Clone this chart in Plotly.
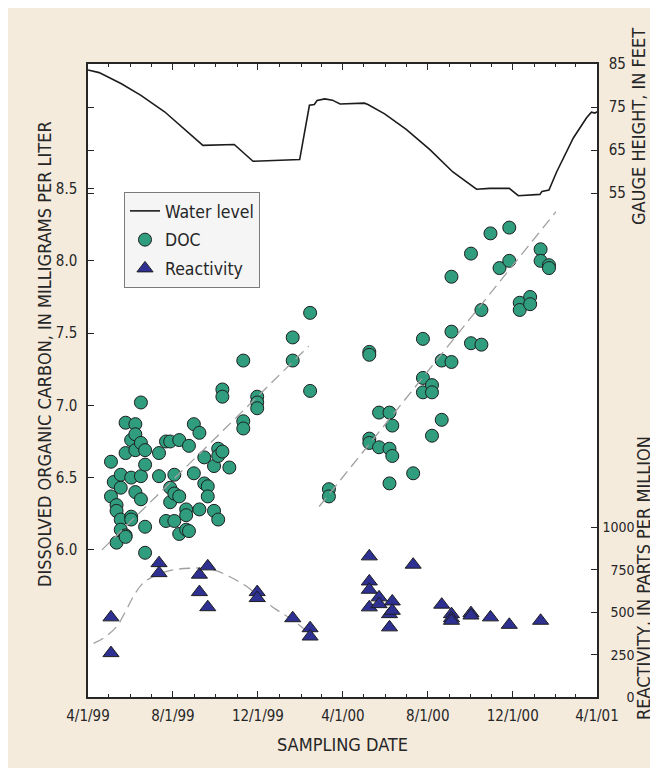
import plotly.graph_objects as go

# ---------------- data ----------------
wl_dates = ["1999-04-01", "1999-04-17", "1999-05-19", "1999-06-16", "1999-07-20",
            "1999-08-18", "1999-09-13", "1999-10-28", "1999-11-24", "2000-01-30",
            "2000-02-13", "2000-02-20", "2000-02-24", "2000-03-06", "2000-03-17",
            "2000-03-28", "2000-05-02", "2000-05-07", "2000-05-24", "2000-05-31",
            "2000-07-01", "2000-08-04", "2000-09-06", "2000-09-25", "2000-10-10",
            "2000-10-29", "2000-11-26", "2000-12-09", "2001-01-09", "2001-01-12",
            "2001-01-22", "2001-02-02", "2001-02-26", "2001-03-17", "2001-03-24",
            "2001-03-29", "2001-04-01"]
wl_height = [83.6, 83.0, 80.4, 77.7, 73.9,
             69.8, 66.1, 66.3, 62.4, 62.8,
             75.4, 75.6, 76.5, 76.9, 76.6,
             75.7, 75.9, 75.6, 74.0, 73.4,
             69.8, 65.1, 59.9, 57.7, 55.9,
             56.1, 56.1, 54.4, 54.7, 55.4,
             55.7, 59.9, 67.8, 72.5, 73.8,
             73.6, 73.9]

doc_dates = (["1999-05-04"] * 2 + ["1999-05-08"] * 1 + ["1999-05-12"] * 3 +
             ["1999-05-18"] * 4 + ["1999-05-25"] * 4 + ["1999-06-02"] * 4 +
             ["1999-06-08"] * 4 + ["1999-06-16"] * 4 + ["1999-06-22"] * 4 +
             ["1999-07-12"] * 2 + ["1999-07-22"] * 2 + ["1999-07-28"] * 3 +
             ["1999-08-03"] * 3 + ["1999-08-10"] * 3 + ["1999-08-20"] * 3 +
             ["1999-08-24"] * 2 + ["1999-08-31"] * 2 + ["1999-09-08"] * 2 +
             ["1999-09-15"] * 2 + ["1999-09-20"] * 2 + ["1999-09-29"] * 2 +
             ["1999-10-05"] * 3 + ["1999-10-11"] * 3 + ["1999-10-21"] * 1 +
             ["1999-11-10"] * 3 + ["1999-11-30"] * 3 + ["2000-01-20"] * 2 +
             ["2000-02-14"] * 2 + ["2000-03-12"] * 2 + ["2000-05-09"] * 4 +
             ["2000-05-23"] * 2 + ["2000-06-07"] * 3 + ["2000-06-11"] * 2 +
             ["2000-07-11"] * 1 + ["2000-07-25"] * 3 + ["2000-08-07"] * 3 +
             ["2000-08-21"] * 2 + ["2000-09-04"] * 3 + ["2000-10-02"] * 2 +
             ["2000-10-17"] * 2 + ["2000-10-30"] * 1 + ["2000-11-12"] * 1 +
             ["2000-11-26"] * 2 + ["2000-12-11"] * 2 + ["2000-12-26"] * 2 +
             ["2001-01-10"] * 2 + ["2001-01-22"] * 2)
doc_values = [6.61, 6.37, 6.47, 6.31, 6.27, 6.05,
              6.52, 6.43, 6.21, 6.14, 6.88, 6.67, 6.10, 6.09, 6.76, 6.50, 6.23, 6.21,
              6.87, 6.80, 6.69, 6.40, 7.02, 6.74, 6.51, 6.35, 6.69, 6.59, 6.16, 5.98,
              6.67, 6.51, 6.75, 6.20, 6.75, 6.43, 6.33,
              6.52, 6.39, 6.20, 6.76, 6.37, 6.11, 6.28, 6.24, 6.14,
              6.72, 6.13, 6.87, 6.53, 6.81, 6.28,
              6.64, 6.46, 6.44, 6.37, 6.58, 6.27,
              6.70, 6.65, 6.21, 7.11, 7.06, 6.68, 6.57,
              7.31, 6.89, 6.84, 7.06, 7.02, 6.98, 7.47, 7.31,
              7.64, 7.10, 6.42, 6.37, 7.37, 7.35, 6.77, 6.74,
              6.95, 6.71, 6.95, 6.70, 6.46, 6.86, 6.65,
              6.53, 7.46, 7.19, 7.09, 7.14, 7.09, 6.79,
              7.31, 6.90, 7.89, 7.51, 7.30, 8.05, 7.43,
              7.66, 7.42, 8.19, 7.95,
              8.23, 8.00, 7.71, 7.66, 7.75, 7.70,
              8.08, 8.00, 7.97, 7.95]

react_dates = (["1999-05-04"] * 2 + ["1999-07-12"] * 2 + ["1999-09-08"] * 2 +
               ["1999-09-20"] * 2 + ["1999-11-30"] * 2 + ["2000-01-20"] * 1 +
               ["2000-02-14"] * 2 + ["2000-05-09"] * 4 + ["2000-05-23"] * 2 +
               ["2000-06-07"] * 2 + ["2000-06-11"] * 2 + ["2000-07-11"] * 1 +
               ["2000-08-21"] * 1 + ["2000-09-04"] * 3 + ["2000-10-02"] * 2 +
               ["2000-10-30"] * 1 + ["2000-11-26"] * 1 + ["2001-01-10"] * 1)
react_values = [470, 259, 790, 731, 722, 619,
                771, 530, 619, 584, 465,
                406, 357, 830, 682, 633, 529, 588, 548,
                489, 411, 564, 509, 781,
                545, 489, 465, 450, 495, 481,
                470, 426, 450]

# fitted trend lines (dashed)
doc_trend1_dates = ["1999-04-21", "2000-02-12"]
doc_trend1_values = [6.00, 7.41]
doc_trend2_dates = ["2000-02-27", "2001-02-01"]
doc_trend2_values = [6.30, 8.34]
react_curve_dates = ["1999-04-09", "1999-04-23", "1999-05-12", "1999-05-26", "1999-06-05",
                     "1999-06-19", "1999-07-09", "1999-08-01", "1999-08-25", "1999-09-13",
                     "1999-10-02", "1999-10-21", "1999-11-15", "1999-12-08", "1999-12-28",
                     "2000-01-16", "2000-02-07"]
react_curve_values = [317, 347, 415, 514, 592,
                      672, 721, 750, 760, 760,
                      746, 711, 652, 573, 514,
                      465, 396]

x_tick_vals = ["1999-04-01", "1999-08-01", "1999-12-01", "2000-04-01",
               "2000-08-01", "2000-12-01", "2001-04-01"]
x_tick_text = ["4/1/99", "8/1/99", "12/1/99", "4/1/00", "8/1/00", "12/1/00", "4/1/01"]
doc_ticks = [6.0, 6.5, 7.0, 7.5, 8.0, 8.5]
gauge_ticks = [55, 65, 75, 85]
react_ticks = [0, 250, 500, 750, 1000]

# ---------------- styling ----------------
FONT = "DejaVu Sans Condensed, DejaVu Sans, sans-serif"
INK = "#262626"
BEIGE = "#F5EBDD"
TEAL = "#2f9d7e"
NAVY = "#2e3192"
DASH = "#a0a0a0"

W, H = 650, 760          # page has an 8 px body margin
OFF = 8
L, R, T, B = 80, 61, 56, 71
PW, PH = W - L - R, H - T - B


def px_x(px):   # page pixel -> paper fraction
    return (px - OFF - L) / PW


def px_y(py):
    return (H - B - (py - OFF)) / PH


fig = go.Figure()

fig.add_trace(go.Scatter(x=wl_dates, y=wl_height, mode="lines", name="Water level",
                         yaxis="y2", legendgroup="a",
                         line=dict(color="#1c1c1c", width=1.6)))

fig.add_trace(go.Scatter(x=doc_dates, y=doc_values, mode="markers", name="DOC",
                         legendgroup="b",
                         marker=dict(symbol="circle", size=13, color=TEAL,
                                     line=dict(color="#1e1e1e", width=1))))
fig.add_trace(go.Scatter(x=doc_trend1_dates, y=doc_trend1_values, mode="lines",
                         showlegend=False, hoverinfo="skip",
                         line=dict(color=DASH, width=1.3, dash="11px,6px")))
fig.add_trace(go.Scatter(x=doc_trend2_dates, y=doc_trend2_values, mode="lines",
                         showlegend=False, hoverinfo="skip",
                         line=dict(color=DASH, width=1.3, dash="11px,6px")))

fig.add_trace(go.Scatter(x=react_curve_dates, y=react_curve_values, mode="lines",
                         yaxis="y3", showlegend=False, hoverinfo="skip",
                         line=dict(color=DASH, width=1.3, dash="11px,6px", shape="spline")))
fig.add_trace(go.Scatter(x=react_dates, y=react_values, mode="markers", name="Reactivity",
                         yaxis="y3", legendgroup="c",
                         marker=dict(symbol="triangle-up", size=14, color=NAVY,
                                     line=dict(color="#1e1e1e", width=1))))

TICKFONT = dict(family=FONT, size=15, color=INK)
axis_common = dict(showline=True, linecolor=INK, linewidth=1.5, ticks="inside",
                   tickcolor=INK, tickwidth=1, showgrid=False, zeroline=False)

fig.update_layout(
    width=W, height=H,
    margin=dict(l=L, r=R, t=T, b=B),
    paper_bgcolor=BEIGE, plot_bgcolor="white",
    font=dict(family=FONT, color=INK),
    xaxis=dict(type="date", range=["1999-04-01", "2001-04-01"],
               tickmode="array", tickvals=x_tick_vals, ticktext=x_tick_text,
               ticklen=6, mirror="ticks", ticklabelstandoff=4, tickfont=TICKFONT,
               minor=dict(dtick="M1", tick0="1999-04-01", ticks="inside", ticklen=3.5,
                          tickcolor=INK, showgrid=False),
               **axis_common),
    yaxis=dict(range=[4.982, 9.362], tickmode="array", tickvals=doc_ticks,
               ticktext=[f"{v:.1f}" for v in doc_ticks], ticklen=6,
               ticklabelstandoff=6, tickfont=TICKFONT, **axis_common),
    yaxis2=dict(overlaying="y", side="right", anchor="x", range=[-62.1, 85],
                tickmode="array", tickvals=gauge_ticks, ticklen=6, mirror="ticks",
                ticklabelstandoff=7, tickfont=TICKFONT, **axis_common),
    yaxis3=dict(overlaying="y", side="right", anchor="x", range=[0, 3736],
                tickmode="array", tickvals=react_ticks,
                ticktext=["\u2007" * (4 - len(str(v))) + str(v) for v in react_ticks],
                ticklen=6, ticklabelstandoff=1,
                tickfont=dict(family=FONT, size=14, color=INK), **axis_common),
    legend=dict(x=px_x(124), y=px_y(192), xanchor="left", yanchor="top",
                bgcolor="#f5f5f5", bordercolor="#7a7a7a", borderwidth=1,
                font=dict(family=FONT, size=17.5, color=INK), itemwidth=30,
                tracegroupgap=3, entrywidth=140, entrywidthmode="pixels"),
    showlegend=True,
)

title_font = dict(family=FONT, size=18, color=INK)
fig.add_annotation(text="DISSOLVED ORGANIC CARBON, IN MILLIGRAMS PER LITER",
                   xref="paper", yref="paper", x=px_x(44), y=px_y(354), textangle=-90,
                   showarrow=False, xanchor="center", yanchor="middle", font=title_font)
fig.add_annotation(text="SAMPLING DATE", xref="paper", yref="paper", x=0.5, y=px_y(745),
                   showarrow=False, xanchor="center", yanchor="middle", font=title_font)
fig.add_annotation(text="GAUGE HEIGHT, IN FEET", xref="paper", yref="paper",
                   x=px_x(638), y=px_y(127), textangle=-90, showarrow=False,
                   xanchor="center", yanchor="middle", font=title_font)
fig.add_annotation(text="REACTIVITY, IN PARTS PER MILLION", xref="paper", yref="paper",
                   x=px_x(643), y=px_y(578), textangle=-90, showarrow=False,
                   xanchor="center", yanchor="middle", font=title_font)

fig.write_html("out.html")
